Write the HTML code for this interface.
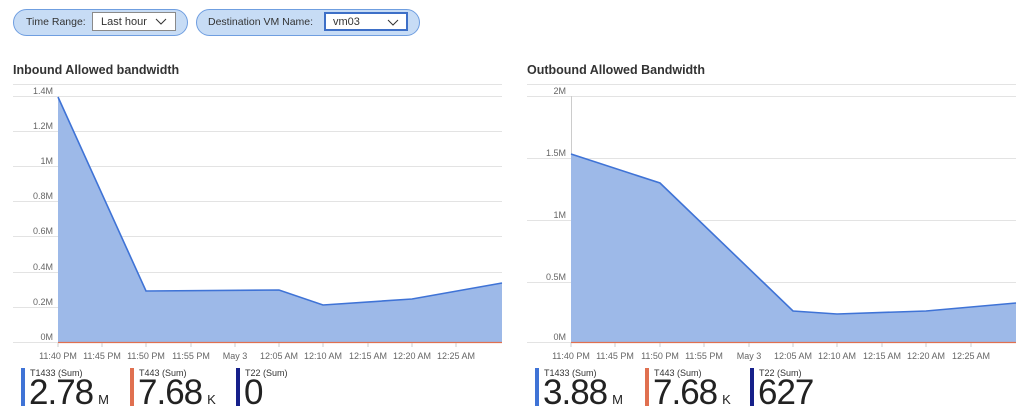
<!DOCTYPE html>
<html><head><meta charset="utf-8"><style>
body{margin:0;width:1022px;height:415px;background:#fff;font-family:"Liberation Sans",sans-serif;overflow:hidden;position:relative}
.pill{position:absolute;top:9px;height:25px;border:1px solid #6f9ee0;background:#c7dcf5;border-radius:14px;font-size:11px;color:#333}
.pill span{position:absolute;top:6px;white-space:nowrap}
.dd{position:absolute;top:2px;height:19px;background:#fff;border:1px solid #8a8a8a;box-sizing:border-box}
.dd span{left:8px;top:3px}
.t{position:absolute;font-size:12.5px;font-weight:bold;color:#333}
.lg{position:absolute;top:368px;height:38px;border-left:4px solid}
.lg .s{position:absolute;left:5px;top:0;font-size:9px;color:#333;white-space:nowrap}
.lg .b{position:absolute;left:4px;top:5px;font-size:35px;color:#222;white-space:nowrap;letter-spacing:-1px}
.lg .b small{font-size:13px;margin-left:5px;letter-spacing:0}
</style></head><body>
<div class="pill" style="left:13px;width:173px"><span style="left:12px;font-size:10.5px">Time Range:</span>
<div class="dd" style="left:78px;width:84px"><span>Last hour</span><svg style="position:absolute;right:8px;top:5px" width="12" height="7"><path d="M1 1L6 6L11 1" stroke="#333" fill="none"/></svg></div></div>
<div class="pill" style="left:196px;width:222px"><span style="left:11px;font-size:10.5px">Destination VM Name:</span>
<div class="dd" style="left:127px;width:84px;border:2px solid #3d6fc7"><span style="top:2px;left:7px">vm03</span><svg style="position:absolute;right:7px;top:5px" width="12" height="7"><path d="M1 1L6 6L11 1" stroke="#333" fill="none"/></svg></div></div>
<div class="t" style="left:13px;top:63px">Inbound Allowed bandwidth</div>
<div class="t" style="left:527px;top:63px">Outbound Allowed Bandwidth</div>
<svg width="1022" height="415" style="position:absolute;left:0;top:0" font-family="Liberation Sans" font-size="9" fill="#666">
<g stroke="#e3e3e3" stroke-width="1">
<line x1="13" y1="84.5" x2="502" y2="84.5"/>
<line x1="13" y1="96.5" x2="502" y2="96.5"/><line x1="13" y1="131.5" x2="502" y2="131.5"/><line x1="13" y1="166.5" x2="502" y2="166.5"/><line x1="13" y1="201.5" x2="502" y2="201.5"/><line x1="13" y1="236.5" x2="502" y2="236.5"/><line x1="13" y1="272.5" x2="502" y2="272.5"/><line x1="13" y1="307.5" x2="502" y2="307.5"/><line x1="13" y1="342.5" x2="502" y2="342.5"/>
<line x1="527" y1="84.5" x2="1016" y2="84.5"/>
<line x1="527" y1="96.5" x2="1016" y2="96.5"/><line x1="527" y1="158.5" x2="1016" y2="158.5"/><line x1="527" y1="220.5" x2="1016" y2="220.5"/><line x1="527" y1="282.5" x2="1016" y2="282.5"/><line x1="527" y1="342.5" x2="1016" y2="342.5"/>
<line x1="571.5" y1="96" x2="571.5" y2="342" stroke="#ccc"/>
</g>
<polygon points="58,97 146,291 279,290 323,305 412,299 502,283 502,342 58,342" fill="#9db9e8"/>
<polyline points="58,97 146,291 279,290 323,305 412,299 502,283" fill="none" stroke="#3f73d6" stroke-width="1.6"/>
<line x1="58" y1="342.5" x2="502" y2="342.5" stroke="#e07050" stroke-width="1.2"/>
<polygon points="571,154 660,183 793,311 837,314 926,311 1016,303 1016,342 571,342" fill="#9db9e8"/>
<polyline points="571,154 660,183 793,311 837,314 926,311 1016,303" fill="none" stroke="#3f73d6" stroke-width="1.6"/>
<line x1="571" y1="342.5" x2="1016" y2="342.5" stroke="#e07050" stroke-width="1.2"/>
<g text-anchor="end">
<text x="53" y="94">1.4M</text><text x="53" y="129">1.2M</text><text x="53" y="164">1M</text><text x="53" y="199">0.8M</text><text x="53" y="234">0.6M</text><text x="53" y="270">0.4M</text><text x="53" y="305">0.2M</text><text x="53" y="340">0M</text>
<text x="566" y="94">2M</text><text x="566" y="156">1.5M</text><text x="566" y="218">1M</text><text x="566" y="280">0.5M</text><text x="566" y="340">0M</text>
</g>
<g stroke="#ccc"><path d="M58 343v4M102 343v4M146 343v4M191 343v4M235 343v4M279 343v4M323 343v4M368 343v4M412 343v4M456 343v4M571 343v4M615 343v4M660 343v4M704 343v4M749 343v4M793 343v4M837 343v4M882 343v4M926 343v4M971 343v4"/></g>
<g text-anchor="middle">
<text x="58" y="359">11:40 PM</text><text x="102" y="359">11:45 PM</text><text x="146" y="359">11:50 PM</text><text x="191" y="359">11:55 PM</text><text x="235" y="359">May 3</text><text x="279" y="359">12:05 AM</text><text x="323" y="359">12:10 AM</text><text x="368" y="359">12:15 AM</text><text x="412" y="359">12:20 AM</text><text x="456" y="359">12:25 AM</text>
<text x="571" y="359">11:40 PM</text><text x="615" y="359">11:45 PM</text><text x="660" y="359">11:50 PM</text><text x="704" y="359">11:55 PM</text><text x="749" y="359">May 3</text><text x="793" y="359">12:05 AM</text><text x="837" y="359">12:10 AM</text><text x="882" y="359">12:15 AM</text><text x="926" y="359">12:20 AM</text><text x="971" y="359">12:25 AM</text>
</g>
</svg>
<div class="lg" style="left:21px;border-color:#3f73d6"><div class="s">T1433 (Sum)</div><div class="b">2.78<small>M</small></div></div>
<div class="lg" style="left:130px;border-color:#e07050"><div class="s">T443 (Sum)</div><div class="b">7.68<small>K</small></div></div>
<div class="lg" style="left:236px;border-color:#16208a"><div class="s">T22 (Sum)</div><div class="b">0</div></div>
<div class="lg" style="left:535px;border-color:#3f73d6"><div class="s">T1433 (Sum)</div><div class="b">3.88<small>M</small></div></div>
<div class="lg" style="left:645px;border-color:#e07050"><div class="s">T443 (Sum)</div><div class="b">7.68<small>K</small></div></div>
<div class="lg" style="left:750px;border-color:#16208a"><div class="s">T22 (Sum)</div><div class="b">627</div></div>
</body></html>
